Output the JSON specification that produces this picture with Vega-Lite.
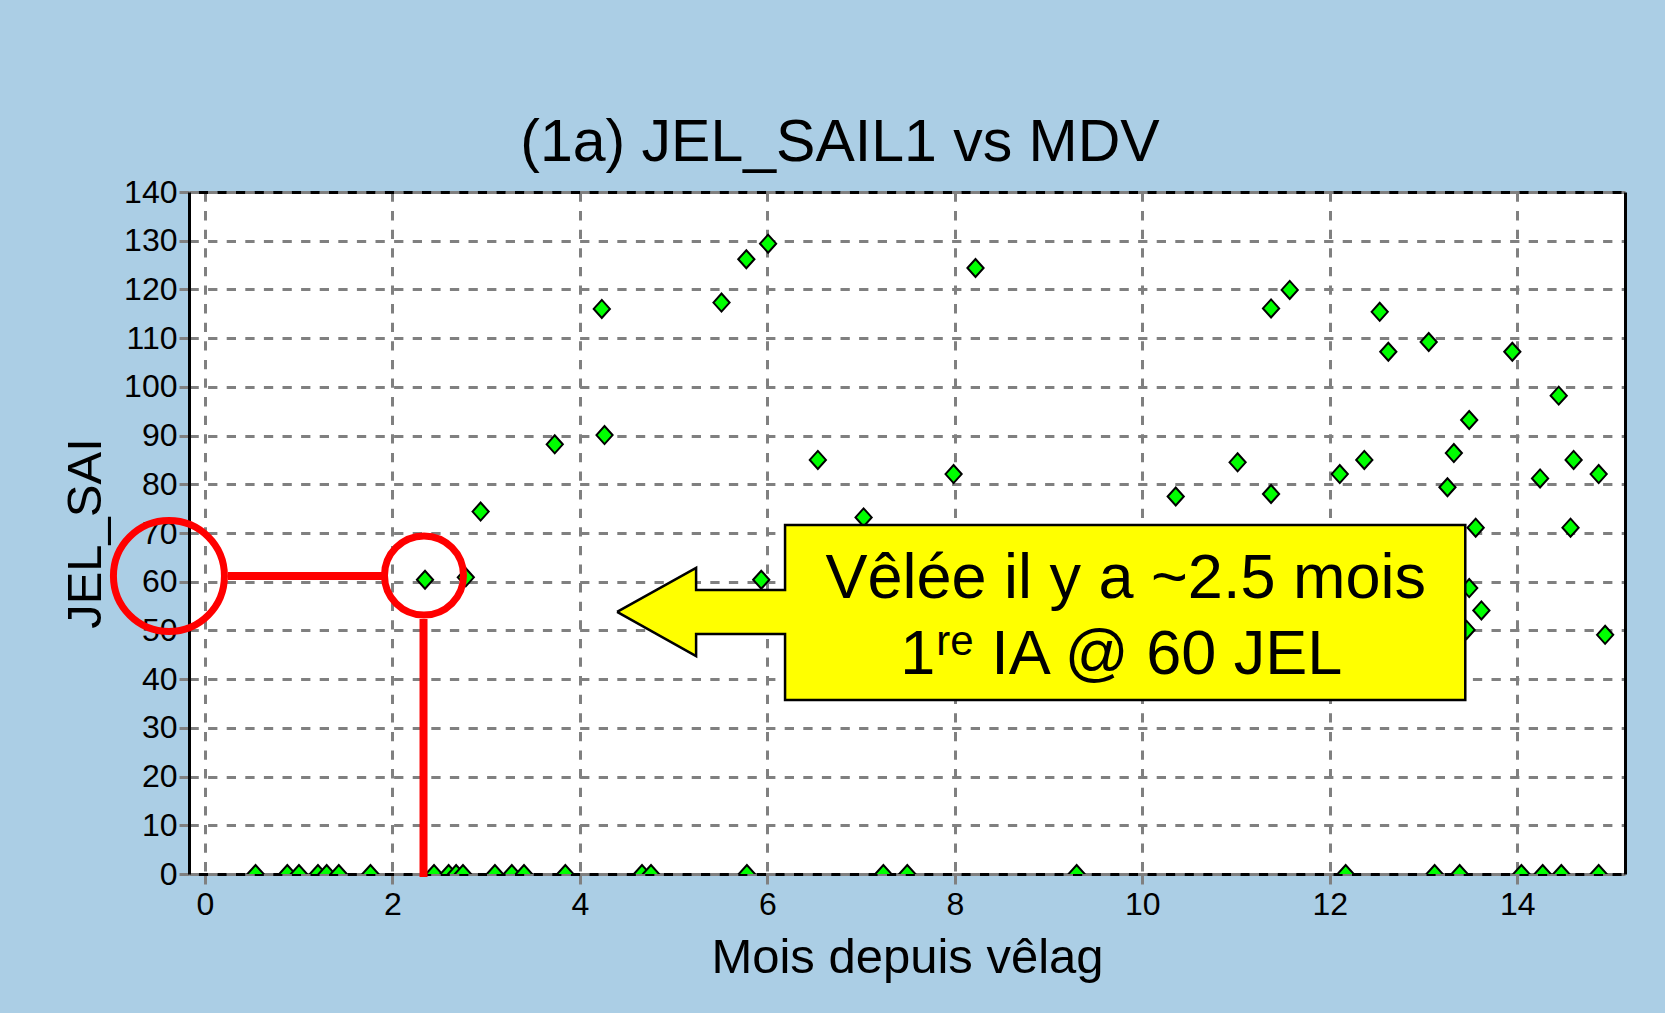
{
  "$schema": "https://vega.github.io/schema/vega-lite/v6.json",
  "width": 1436,
  "height": 682,
  "autosize": {"type": "none"},
  "padding": {"left": 189, "top": 192, "right": 40, "bottom": 139},
  "background": "#ABCEE5",
  "config": {
    "view": {"stroke": null, "fill": "white"},
    "font": "Liberation Sans"
  },
  "title": {
    "text": "(1a) JEL_SAIL1 vs MDV",
    "font": "Liberation Sans",
    "fontSize": 59,
    "fontWeight": "normal",
    "color": "black",
    "anchor": "middle",
    "dx": -67,
    "dy": 57,
    "offset": 13,
    "baseline": "alphabetic"
  },
  "datasets": {
    "points": [
      {"x": 2.941, "y": 74.4}, {"x": 2.348, "y": 60.4}, {"x": 2.783, "y": 60.9},
      {"x": 3.732, "y": 88.2}, {"x": 4.263, "y": 90.1}, {"x": 4.234, "y": 116.0},
      {"x": 5.511, "y": 117.3}, {"x": 5.776, "y": 126.2}, {"x": 6.008, "y": 129.4},
      {"x": 5.935, "y": 60.4}, {"x": 6.539, "y": 85.0}, {"x": 7.027, "y": 73.2},
      {"x": 7.987, "y": 82.1}, {"x": 8.221, "y": 124.4}, {"x": 10.357, "y": 77.5},
      {"x": 11.017, "y": 84.5}, {"x": 11.374, "y": 116.1}, {"x": 11.573, "y": 119.9},
      {"x": 11.374, "y": 78.0}, {"x": 12.107, "y": 82.1}, {"x": 12.369, "y": 85.0},
      {"x": 12.533, "y": 115.4}, {"x": 12.625, "y": 107.2}, {"x": 13.056, "y": 109.2},
      {"x": 13.256, "y": 79.4}, {"x": 13.324, "y": 86.4}, {"x": 13.488, "y": 93.2},
      {"x": 13.557, "y": 71.1}, {"x": 13.488, "y": 58.7}, {"x": 13.618, "y": 54.1},
      {"x": 13.46, "y": 50.1}, {"x": 13.948, "y": 107.2}, {"x": 14.244, "y": 81.2},
      {"x": 14.443, "y": 98.2}, {"x": 14.569, "y": 71.1}, {"x": 14.602, "y": 85.0},
      {"x": 14.869, "y": 82.1}, {"x": 14.938, "y": 49.1},
      {"x": 0.54, "y": 0}, {"x": 0.879, "y": 0}, {"x": 1.003, "y": 0}, {"x": 1.206, "y": 0},
      {"x": 1.299, "y": 0}, {"x": 1.428, "y": 0}, {"x": 1.766, "y": 0}, {"x": 2.444, "y": 0},
      {"x": 2.6, "y": 0}, {"x": 2.68, "y": 0}, {"x": 2.753, "y": 0}, {"x": 3.094, "y": 0},
      {"x": 3.274, "y": 0}, {"x": 3.404, "y": 0}, {"x": 3.845, "y": 0}, {"x": 4.663, "y": 0},
      {"x": 4.759, "y": 0}, {"x": 5.782, "y": 0}, {"x": 7.238, "y": 0}, {"x": 7.493, "y": 0},
      {"x": 9.3, "y": 0}, {"x": 12.17, "y": 0}, {"x": 13.119, "y": 0}, {"x": 13.386, "y": 0},
      {"x": 14.045, "y": 0}, {"x": 14.272, "y": 0}, {"x": 14.471, "y": 0}, {"x": 14.869, "y": 0}
    ],
    "callout": [
      {"i": 0, "x": 4.397, "y": 53.79},
      {"i": 1, "x": 5.24, "y": 62.82},
      {"i": 2, "x": 5.24, "y": 58.3},
      {"i": 3, "x": 6.189, "y": 58.3},
      {"i": 4, "x": 6.189, "y": 71.65},
      {"i": 5, "x": 13.446, "y": 71.65},
      {"i": 6, "x": 13.446, "y": 35.72},
      {"i": 7, "x": 6.189, "y": 35.72},
      {"i": 8, "x": 6.189, "y": 49.27},
      {"i": 9, "x": 5.24, "y": 49.27},
      {"i": 10, "x": 5.24, "y": 44.75},
      {"i": 11, "x": 4.397, "y": 53.79}
    ],
    "line1": [{"x": 9.823, "y": 56.66, "t": "Vêlée il y a ~2.5 mois"}],
    "line2": [
      {"x": 7.417, "y": 41.06, "t": "1"},
      {"x": 8.388, "y": 41.06, "t": "IA @ 60 JEL"}
    ],
    "sup": [{"x": 7.801, "y": 44.96, "t": "re"}],
    "bigCircle": [{"x": -0.384, "y": 61.18}],
    "smallCircle": [{"x": 2.337, "y": 61.28}],
    "redLines": [
      {"x": 0.245, "x2": 1.889, "y": 61.18, "y2": 61.18},
      {"x": 2.332, "x2": 2.332, "y": 52.35, "y2": -0.6}
    ]
  },
  "layer": [
    {
      "data": {"name": "points"},
      "mark": {
        "type": "point",
        "shape": "M-0.9,0L0,-1L0.9,0L0,1Z",
        "filled": true,
        "fill": "#00FF00",
        "stroke": "black",
        "strokeWidth": 2,
        "size": 324,
        "opacity": 1,
        "clip": true
      },
      "encoding": {
        "x": {
          "field": "x", "type": "quantitative",
          "scale": {"domain": [-0.17, 15.15], "nice": false, "zero": false},
          "axis": {
            "orient": "bottom",
            "values": [0, 2, 4, 6, 8, 10, 12, 14],
            "title": "Mois depuis vêlag",
            "titleFont": "Liberation Sans",
            "titleFontSize": 49,
            "titleFontWeight": "normal",
            "titleColor": "black",
            "titleY": 98,
            "titleBaseline": "alphabetic",
            "labelFont": "Liberation Sans",
            "labelFontSize": 32,
            "labelColor": "black",
            "labelPadding": 5,
            "labelFlush": false,
            "labelOverlap": false,
            "tickColor": "#808080",
            "tickWidth": 3,
            "tickSize": 10,
            "domainColor": "black",
            "domainWidth": 3,
            "domainDash": [9.3, 9.3],
            "domainDashOffset": 9.3,
            "grid": true,
            "gridColor": "#808080",
            "gridWidth": 3,
            "gridDash": [9.3, 9.3],
            "gridOpacity": 1
          }
        },
        "y": {
          "field": "y", "type": "quantitative",
          "scale": {"domain": [0, 140], "nice": false, "zero": false},
          "axis": {
            "orient": "left",
            "values": [0, 10, 20, 30, 40, 50, 60, 70, 80, 90, 100, 110, 120, 130, 140],
            "title": "JEL_SAI",
            "titleFont": "Liberation Sans",
            "titleFontSize": 49,
            "titleFontWeight": "normal",
            "titleColor": "black",
            "titleX": -89,
            "titleY": 341,
            "titleAngle": -90,
            "titleAlign": "center",
            "titleBaseline": "alphabetic",
            "labelFont": "Liberation Sans",
            "labelFontSize": 32,
            "labelColor": "black",
            "labelPadding": 2,
            "labelFlush": false,
            "labelOverlap": false,
            "tickColor": "#808080",
            "tickWidth": 3,
            "tickSize": 10,
            "domainColor": "black",
            "domainWidth": 3,
            "grid": true,
            "gridColor": "#808080",
            "gridWidth": 3,
            "gridDash": [9.3, 9.3],
            "gridOpacity": 1
          }
        }
      }
    },
    {
      "data": {"name": "callout"},
      "mark": {
        "type": "line",
        "fill": "#FFFF00",
        "stroke": "black",
        "strokeWidth": 2.5,
        "strokeJoin": "miter",
        "clip": false
      },
      "encoding": {
        "x": {
          "field": "x", "type": "quantitative",
          "scale": {"domain": [-0.17, 15.15], "nice": false, "zero": false},
          "axis": {
            "orient": "top", "title": null, "labels": false, "ticks": false, "grid": false,
            "domainColor": "black", "domainWidth": 3,
            "domainDash": [9.3, 9.3], "domainDashOffset": 9.3
          }
        },
        "y": {
          "field": "y", "type": "quantitative",
          "scale": {"domain": [0, 140], "nice": false, "zero": false},
          "axis": {
            "orient": "right", "title": null, "labels": false, "ticks": false, "grid": false,
            "domainColor": "black", "domainWidth": 3
          }
        },
        "order": {"field": "i", "type": "quantitative"}
      }
    },
    {
      "data": {"name": "line1"},
      "mark": {"type": "text", "font": "Liberation Sans", "fontSize": 63, "align": "center", "baseline": "alphabetic", "color": "black", "clip": false},
      "encoding": {
        "x": {"field": "x", "type": "quantitative", "scale": {"domain": [-0.17, 15.15], "nice": false, "zero": false}, "axis": null},
        "y": {"field": "y", "type": "quantitative", "scale": {"domain": [0, 140], "nice": false, "zero": false}, "axis": null},
        "text": {"field": "t"}
      }
    },
    {
      "data": {"name": "line2"},
      "mark": {"type": "text", "font": "Liberation Sans", "fontSize": 63, "align": "left", "baseline": "alphabetic", "color": "black", "clip": false},
      "encoding": {
        "x": {"field": "x", "type": "quantitative", "scale": {"domain": [-0.17, 15.15], "nice": false, "zero": false}, "axis": null},
        "y": {"field": "y", "type": "quantitative", "scale": {"domain": [0, 140], "nice": false, "zero": false}, "axis": null},
        "text": {"field": "t"}
      }
    },
    {
      "data": {"name": "sup"},
      "mark": {"type": "text", "font": "Liberation Sans", "fontSize": 42, "align": "left", "baseline": "alphabetic", "color": "black", "clip": false},
      "encoding": {
        "x": {"field": "x", "type": "quantitative", "scale": {"domain": [-0.17, 15.15], "nice": false, "zero": false}, "axis": null},
        "y": {"field": "y", "type": "quantitative", "scale": {"domain": [0, 140], "nice": false, "zero": false}, "axis": null},
        "text": {"field": "t"}
      }
    },
    {
      "data": {"name": "redLines"},
      "mark": {"type": "rule", "color": "#FF0000", "strokeWidth": 8, "strokeCap": "butt", "clip": false},
      "encoding": {
        "x": {"field": "x", "type": "quantitative", "scale": {"domain": [-0.17, 15.15], "nice": false, "zero": false}, "axis": null},
        "x2": {"field": "x2"},
        "y": {"field": "y", "type": "quantitative", "scale": {"domain": [0, 140], "nice": false, "zero": false}, "axis": null},
        "y2": {"field": "y2"}
      }
    },
    {
      "data": {"name": "bigCircle"},
      "mark": {"type": "point", "shape": "circle", "filled": false, "stroke": "#FF0000", "strokeWidth": 7, "size": 12321, "opacity": 1, "clip": false},
      "encoding": {
        "x": {"field": "x", "type": "quantitative", "scale": {"domain": [-0.17, 15.15], "nice": false, "zero": false}, "axis": null},
        "y": {"field": "y", "type": "quantitative", "scale": {"domain": [0, 140], "nice": false, "zero": false}, "axis": null}
      }
    },
    {
      "data": {"name": "smallCircle"},
      "mark": {"type": "point", "shape": "circle", "filled": false, "stroke": "#FF0000", "strokeWidth": 7, "size": 6241, "opacity": 1, "clip": false},
      "encoding": {
        "x": {"field": "x", "type": "quantitative", "scale": {"domain": [-0.17, 15.15], "nice": false, "zero": false}, "axis": null},
        "y": {"field": "y", "type": "quantitative", "scale": {"domain": [0, 140], "nice": false, "zero": false}, "axis": null}
      }
    }
  ],
  "resolve": {"axis": {"x": "independent", "y": "independent"}}
}
